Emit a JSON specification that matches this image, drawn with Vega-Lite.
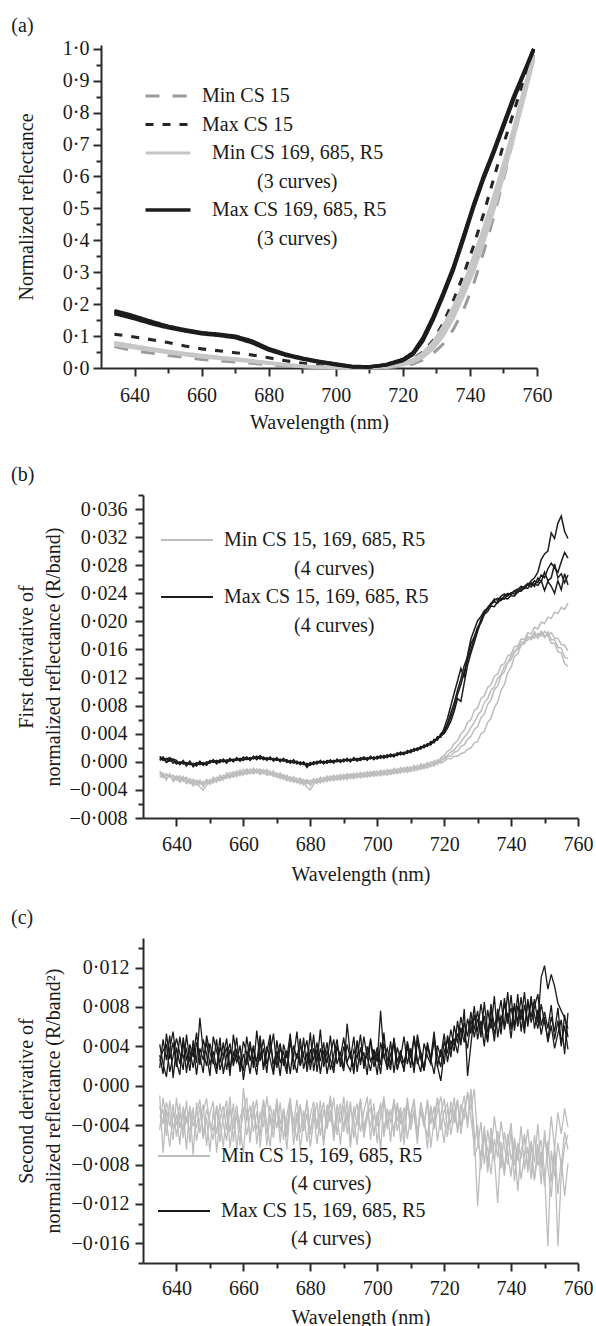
{
"$schema": "https://vega.github.io/schema/vega-lite/v6.json",
"padding": {"left": 10, "top": 15, "right": 5, "bottom": 0},
"background": "white",
"columns": 1,
"spacing": 23,
"config": {
  "view": {"stroke": null},
  "font": "Liberation Serif",
  "axis": {"labelFont": "Liberation Serif", "labelFontSize": 20, "labelColor": "#1a1a1a", "titleFont": "Liberation Serif", "titleFontSize": 20, "titleFontWeight": "normal", "titleColor": "#1a1a1a", "domainColor": "#2b2b2b", "domainWidth": 2, "tickColor": "#2b2b2b", "tickWidth": 2, "grid": false, "labelOverlap": false, "labelFlush": false, "labelBound": false},
  "legend": {"labelFont": "Liberation Serif", "labelFontSize": 20, "labelColor": "#1a1a1a", "labelLimit": 400},
  "title": {"font": "Liberation Serif", "fontSize": 20, "fontWeight": "normal", "anchor": "start", "color": "#1a1a1a"}
},
"datasets": {
  "keysA": [
    {"k": "m15", "s": "Min CS 15"}, {"k": "x15", "s": "Max CS 15"},
    {"k": "n1", "s": "Min CS 169, 685, R5"}, {"k": "n2", "s": "Min CS 169, 685, R5"}, {"k": "n3", "s": "Min CS 169, 685, R5"},
    {"k": "x1", "s": "Max CS 169, 685, R5"}, {"k": "x2", "s": "Max CS 169, 685, R5"}, {"k": "x3", "s": "Max CS 169, 685, R5"}
  ],
  "grp": [
    {"k": "a", "s": "Min CS 15, 169, 685, R5"}, {"k": "b", "s": "Min CS 15, 169, 685, R5"}, {"k": "c", "s": "Min CS 15, 169, 685, R5"}, {"k": "d", "s": "Min CS 15, 169, 685, R5"},
    {"k": "e", "s": "Max CS 15, 169, 685, R5"}, {"k": "f", "s": "Max CS 15, 169, 685, R5"}, {"k": "g", "s": "Max CS 15, 169, 685, R5"}, {"k": "h", "s": "Max CS 15, 169, 685, R5"}
  ],
  "ra": [
{"w":634,"m15":0.067,"x15":0.106,"n1":0.077,"n2":0.072,"n3":0.080,"x1":0.176,"x2":0.170,"x3":0.180},
{"w":638,"m15":0.058,"x15":0.100,"n1":0.070,"n2":0.066,"n3":0.073,"x1":0.166,"x2":0.160,"x3":0.169},
{"w":642,"m15":0.051,"x15":0.094,"n1":0.063,"n2":0.060,"n3":0.066,"x1":0.153,"x2":0.148,"x3":0.156},
{"w":646,"m15":0.045,"x15":0.087,"n1":0.057,"n2":0.054,"n3":0.059,"x1":0.140,"x2":0.136,"x3":0.143},
{"w":650,"m15":0.039,"x15":0.080,"n1":0.051,"n2":0.048,"n3":0.053,"x1":0.129,"x2":0.126,"x3":0.131},
{"w":655,"m15":0.033,"x15":0.069,"n1":0.044,"n2":0.041,"n3":0.046,"x1":0.118,"x2":0.116,"x3":0.120},
{"w":660,"m15":0.027,"x15":0.060,"n1":0.038,"n2":0.035,"n3":0.040,"x1":0.109,"x2":0.107,"x3":0.111},
{"w":665,"m15":0.023,"x15":0.054,"n1":0.033,"n2":0.030,"n3":0.034,"x1":0.105,"x2":0.102,"x3":0.106},
{"w":670,"m15":0.019,"x15":0.048,"n1":0.028,"n2":0.025,"n3":0.029,"x1":0.098,"x2":0.095,"x3":0.100},
{"w":675,"m15":0.015,"x15":0.041,"n1":0.022,"n2":0.020,"n3":0.023,"x1":0.082,"x2":0.079,"x3":0.085},
{"w":680,"m15":0.010,"x15":0.032,"n1":0.016,"n2":0.014,"n3":0.017,"x1":0.058,"x2":0.056,"x3":0.061},
{"w":685,"m15":0.006,"x15":0.023,"n1":0.010,"n2":0.009,"n3":0.011,"x1":0.042,"x2":0.040,"x3":0.044},
{"w":690,"m15":0.003,"x15":0.015,"n1":0.006,"n2":0.005,"n3":0.006,"x1":0.030,"x2":0.028,"x3":0.031},
{"w":695,"m15":0.001,"x15":0.008,"n1":0.003,"n2":0.002,"n3":0.003,"x1":0.020,"x2":0.018,"x3":0.021},
{"w":700,"m15":0.000,"x15":0.003,"n1":0.001,"n2":0.001,"n3":0.001,"x1":0.012,"x2":0.010,"x3":0.013},
{"w":705,"m15":0.000,"x15":0.000,"n1":0.000,"n2":0.000,"n3":0.000,"x1":0.004,"x2":0.003,"x3":0.005},
{"w":710,"m15":0.000,"x15":0.001,"n1":0.001,"n2":0.002,"n3":0.001,"x1":0.003,"x2":0.003,"x3":0.004},
{"w":715,"m15":0.001,"x15":0.006,"n1":0.004,"n2":0.006,"n3":0.003,"x1":0.010,"x2":0.011,"x3":0.009},
{"w":720,"m15":0.005,"x15":0.016,"n1":0.012,"n2":0.015,"n3":0.010,"x1":0.025,"x2":0.027,"x3":0.023},
{"w":723,"m15":0.012,"x15":0.028,"n1":0.022,"n2":0.026,"n3":0.018,"x1":0.045,"x2":0.048,"x3":0.042},
{"w":726,"m15":0.025,"x15":0.050,"n1":0.040,"n2":0.047,"n3":0.034,"x1":0.090,"x2":0.095,"x3":0.085},
{"w":729,"m15":0.045,"x15":0.085,"n1":0.070,"n2":0.080,"n3":0.060,"x1":0.155,"x2":0.160,"x3":0.150},
{"w":732,"m15":0.075,"x15":0.140,"n1":0.115,"n2":0.130,"n3":0.100,"x1":0.230,"x2":0.235,"x3":0.225},
{"w":735,"m15":0.120,"x15":0.210,"n1":0.170,"n2":0.190,"n3":0.155,"x1":0.310,"x2":0.315,"x3":0.305},
{"w":738,"m15":0.180,"x15":0.290,"n1":0.240,"n2":0.260,"n3":0.225,"x1":0.410,"x2":0.410,"x3":0.400},
{"w":741,"m15":0.260,"x15":0.380,"n1":0.320,"n2":0.345,"n3":0.300,"x1":0.510,"x2":0.505,"x3":0.500},
{"w":744,"m15":0.360,"x15":0.480,"n1":0.410,"n2":0.435,"n3":0.390,"x1":0.600,"x2":0.595,"x3":0.590},
{"w":747,"m15":0.470,"x15":0.590,"n1":0.510,"n2":0.535,"n3":0.490,"x1":0.680,"x2":0.675,"x3":0.670},
{"w":750,"m15":0.590,"x15":0.700,"n1":0.620,"n2":0.640,"n3":0.600,"x1":0.765,"x2":0.760,"x3":0.755},
{"w":753,"m15":0.720,"x15":0.800,"n1":0.730,"n2":0.750,"n3":0.720,"x1":0.850,"x2":0.845,"x3":0.840},
{"w":756,"m15":0.850,"x15":0.900,"n1":0.850,"n2":0.870,"n3":0.840,"x1":0.925,"x2":0.920,"x3":0.920},
{"w":759,"m15":0.970,"x15":0.980,"n1":0.970,"n2":0.980,"n3":0.965,"x1":1.000,"x2":0.995,"x3":1.000}
  ],
  "rb": [
{"w":635,"a":-0.0013,"b":-0.0019,"c":-0.0016,"d":-0.0022,"e":0.0006,"f":0.0003,"g":0.0008,"h":0.0002},
{"w":636,"a":-0.002,"b":-0.0016,"c":-0.0023,"d":-0.0019,"e":0.0002,"f":0.0007,"g":0.0003,"h":0.0005},
{"w":637,"a":-0.0017,"b":-0.0024,"c":-0.0019,"d":-0.0026,"e":0.0005,"f":0,"g":0.0004,"h":-0.0001},
{"w":638,"a":-0.0022,"b":-0.0018,"c":-0.0021,"d":-0.0017,"e":0.0001,"f":0.0004,"g":0.0006,"h":0.0002},
{"w":639,"a":-0.0019,"b":-0.0025,"c":-0.002,"d":-0.0028,"e":0.0003,"f":-0.0002,"g":0.0002,"h":0.0004},
{"w":640,"a":-0.0024,"b":-0.002,"c":-0.0026,"d":-0.0022,"e":-0.0003,"f":0.0001,"g":-0.0002,"h":0.0002},
{"w":641,"a":-0.002,"b":-0.0027,"c":-0.0022,"d":-0.0029,"e":0,"f":-0.0004,"g":-0.0001,"h":-0.0003},
{"w":642,"a":-0.0025,"b":-0.0021,"c":-0.0028,"d":-0.0024,"e":-0.0002,"f":0.0002,"g":-0.0003,"h":0.0001},
{"w":643,"a":-0.0022,"b":-0.0029,"c":-0.0024,"d":-0.0031,"e":-0.0001,"f":-0.0005,"g":-0.0002,"h":-0.0006},
{"w":644,"a":-0.0029,"b":-0.0024,"c":-0.0031,"d":-0.0027,"e":-0.0004,"f":0,"g":-0.0003,"h":0.0001},
{"w":645,"a":-0.0025,"b":-0.0031,"c":-0.0027,"d":-0.0034,"e":-0.0002,"f":-0.0006,"g":-0.0003,"h":-0.0007},
{"w":646,"a":-0.003,"b":-0.0026,"c":-0.0033,"d":-0.0029,"e":-0.0005,"f":-0.0001,"g":-0.0006,"h":-0.0002},
{"w":647,"a":-0.0026,"b":-0.0032,"c":-0.0028,"d":-0.0036,"e":0.0001,"f":-0.0003,"g":0,"h":-0.0004},
{"w":648,"a":-0.0033,"b":-0.0028,"c":-0.0035,"d":-0.004,"e":-0.0005,"f":-0.0001,"g":-0.0004,"h":-0.0002},
{"w":649,"a":-0.0025,"b":-0.0031,"c":-0.0027,"d":-0.0033,"e":0,"f":-0.0004,"g":-0.0001,"h":-0.0005},
{"w":650,"a":-0.003,"b":-0.0025,"c":-0.0032,"d":-0.0029,"e":-0.0002,"f":0.0002,"g":-0.0001,"h":0.0001},
{"w":651,"a":-0.0022,"b":-0.0028,"c":-0.0024,"d":-0.003,"e":0.0003,"f":-0.0001,"g":0.0002,"h":0},
{"w":652,"a":-0.0027,"b":-0.0022,"c":-0.0029,"d":-0.0025,"e":-0.0003,"f":0.0001,"g":-0.0002,"h":0.0002},
{"w":653,"a":-0.0019,"b":-0.0025,"c":-0.0021,"d":-0.0027,"e":0.0002,"f":-0.0001,"g":0.0003,"h":0},
{"w":654,"a":-0.0024,"b":-0.0019,"c":-0.0026,"d":-0.0022,"e":0,"f":0.0004,"g":0.0001,"h":0.0003},
{"w":655,"a":-0.0016,"b":-0.0022,"c":-0.0018,"d":-0.0024,"e":0.0003,"f":-0.0001,"g":0.0002,"h":-0.0002},
{"w":656,"a":-0.0021,"b":-0.0015,"c":-0.0023,"d":-0.0019,"e":0.0001,"f":0.0005,"g":0.0002,"h":0.0004},
{"w":657,"a":-0.0014,"b":-0.002,"c":-0.0016,"d":-0.0022,"e":0.0004,"f":0,"g":0.0003,"h":0.0001},
{"w":658,"a":-0.0019,"b":-0.0013,"c":-0.0021,"d":-0.0017,"e":0.0002,"f":0.0006,"g":0.0003,"h":0.0005},
{"w":659,"a":-0.0012,"b":-0.0018,"c":-0.0014,"d":-0.002,"e":0.0005,"f":0.0001,"g":0.0004,"h":0.0002},
{"w":660,"a":-0.0017,"b":-0.0011,"c":-0.0019,"d":-0.0015,"e":0.0002,"f":0.0006,"g":0.0003,"h":0.0007},
{"w":661,"a":-0.001,"b":-0.0016,"c":-0.0012,"d":-0.0018,"e":0.0007,"f":0.0003,"g":0.0006,"h":0.0004},
{"w":662,"a":-0.0016,"b":-0.001,"c":-0.0017,"d":-0.0014,"e":0.0002,"f":0.0006,"g":0.0003,"h":0.0005},
{"w":663,"a":-0.0009,"b":-0.0015,"c":-0.0011,"d":-0.0017,"e":0.0008,"f":0.0004,"g":0.0007,"h":0.0005},
{"w":664,"a":-0.0015,"b":-0.001,"c":-0.0016,"d":-0.0013,"e":0.0003,"f":0.0007,"g":0.0004,"h":0.0008},
{"w":665,"a":-0.001,"b":-0.0016,"c":-0.0012,"d":-0.0018,"e":0.0008,"f":0.0004,"g":0.0009,"h":0.0005},
{"w":666,"a":-0.0016,"b":-0.0011,"c":-0.0017,"d":-0.0014,"e":0.0003,"f":0.0007,"g":0.0004,"h":0.0006},
{"w":667,"a":-0.0011,"b":-0.0017,"c":-0.0013,"d":-0.0019,"e":0.0006,"f":0.0002,"g":0.0005,"h":0.0003},
{"w":668,"a":-0.0018,"b":-0.0013,"c":-0.0019,"d":-0.0016,"e":0.0003,"f":0.0007,"g":0.0004,"h":0.0006},
{"w":669,"a":-0.0013,"b":-0.0019,"c":-0.0015,"d":-0.0021,"e":0.0005,"f":0.0001,"g":0.0004,"h":0.0002},
{"w":670,"a":-0.0021,"b":-0.0016,"c":-0.0022,"d":-0.0019,"e":0.0002,"f":0.0006,"g":0.0003,"h":0.0005},
{"w":671,"a":-0.0016,"b":-0.0022,"c":-0.0018,"d":-0.0024,"e":0.0004,"f":0,"g":0.0003,"h":0.0001},
{"w":672,"a":-0.0023,"b":-0.0018,"c":-0.0025,"d":-0.0021,"e":0.0001,"f":0.0005,"g":0.0002,"h":0.0004},
{"w":673,"a":-0.0019,"b":-0.0025,"c":-0.0021,"d":-0.0027,"e":0.0003,"f":-0.0001,"g":0.0002,"h":0},
{"w":674,"a":-0.0026,"b":-0.0021,"c":-0.0028,"d":-0.0024,"e":-0.0002,"f":0.0002,"g":-0.0001,"h":0.0001},
{"w":675,"a":-0.0021,"b":-0.0027,"c":-0.0023,"d":-0.0029,"e":0.0003,"f":-0.0001,"g":0.0002,"h":-0.0002},
{"w":676,"a":-0.0028,"b":-0.0023,"c":-0.003,"d":-0.0026,"e":-0.0003,"f":0.0001,"g":-0.0002,"h":0},
{"w":677,"a":-0.0023,"b":-0.0029,"c":-0.0025,"d":-0.0032,"e":0,"f":-0.0004,"g":-0.0001,"h":-0.0003},
{"w":678,"a":-0.003,"b":-0.0025,"c":-0.0033,"d":-0.0028,"e":-0.0004,"f":0,"g":-0.0003,"h":-0.0001},
{"w":679,"a":-0.0025,"b":-0.0031,"c":-0.0027,"d":-0.0036,"e":-0.0002,"f":-0.0006,"g":-0.0003,"h":-0.0008},
{"w":680,"a":-0.0031,"b":-0.0026,"c":-0.0034,"d":-0.004,"e":-0.0005,"f":-0.0001,"g":-0.0004,"h":-0.0002},
{"w":681,"a":-0.0024,"b":-0.003,"c":-0.0026,"d":-0.0032,"e":0,"f":-0.0004,"g":-0.0001,"h":-0.0003},
{"w":682,"a":-0.0029,"b":-0.0024,"c":-0.0031,"d":-0.0027,"e":-0.0003,"f":0.0001,"g":-0.0002,"h":0},
{"w":683,"a":-0.0022,"b":-0.0028,"c":-0.0024,"d":-0.003,"e":0.0002,"f":-0.0002,"g":0.0001,"h":-0.0001},
{"w":684,"a":-0.0027,"b":-0.0022,"c":-0.0029,"d":-0.0025,"e":-0.0003,"f":0.0001,"g":-0.0002,"h":0},
{"w":685,"a":-0.002,"b":-0.0026,"c":-0.0022,"d":-0.0028,"e":0.0002,"f":-0.0002,"g":0.0001,"h":-0.0001},
{"w":686,"a":-0.0025,"b":-0.002,"c":-0.0027,"d":-0.0023,"e":-0.0001,"f":0.0003,"g":0,"h":0.0002},
{"w":687,"a":-0.0019,"b":-0.0025,"c":-0.0021,"d":-0.0027,"e":0.0002,"f":-0.0002,"g":0.0001,"h":-0.0001},
{"w":688,"a":-0.0024,"b":-0.0019,"c":-0.0026,"d":-0.0022,"e":0,"f":0.0004,"g":0.0001,"h":0.0003},
{"w":689,"a":-0.0018,"b":-0.0024,"c":-0.002,"d":-0.0026,"e":0.0003,"f":-0.0001,"g":0.0002,"h":0},
{"w":690,"a":-0.0023,"b":-0.0018,"c":-0.0025,"d":-0.0021,"e":0,"f":0.0004,"g":0.0001,"h":0.0003},
{"w":691,"a":-0.0017,"b":-0.0023,"c":-0.0019,"d":-0.0025,"e":0.0005,"f":0.0001,"g":0.0004,"h":0.0002},
{"w":692,"a":-0.0022,"b":-0.0017,"c":-0.0024,"d":-0.002,"e":0,"f":0.0004,"g":0.0001,"h":0.0003},
{"w":693,"a":-0.0016,"b":-0.0022,"c":-0.0018,"d":-0.0024,"e":0.0006,"f":0.0002,"g":0.0005,"h":0.0003},
{"w":694,"a":-0.0021,"b":-0.0016,"c":-0.0023,"d":-0.0019,"e":0.0001,"f":0.0005,"g":0.0002,"h":0.0004},
{"w":695,"a":-0.0015,"b":-0.0021,"c":-0.0017,"d":-0.0023,"e":0.0006,"f":0.0002,"g":0.0005,"h":0.0003},
{"w":696,"a":-0.002,"b":-0.0015,"c":-0.0022,"d":-0.0018,"e":0.0003,"f":0.0007,"g":0.0004,"h":0.0006},
{"w":697,"a":-0.0014,"b":-0.002,"c":-0.0016,"d":-0.0022,"e":0.0006,"f":0.0002,"g":0.0005,"h":0.0003},
{"w":698,"a":-0.0019,"b":-0.0014,"c":-0.0021,"d":-0.0017,"e":0.0004,"f":0.0008,"g":0.0005,"h":0.0007},
{"w":699,"a":-0.0013,"b":-0.0019,"c":-0.0015,"d":-0.0021,"e":0.0007,"f":0.0003,"g":0.0006,"h":0.0004},
{"w":700,"a":-0.0018,"b":-0.0013,"c":-0.002,"d":-0.0016,"e":0.0004,"f":0.0008,"g":0.0005,"h":0.0007},
{"w":701,"a":-0.0012,"b":-0.0018,"c":-0.0014,"d":-0.002,"e":0.0009,"f":0.0005,"g":0.0008,"h":0.0006},
{"w":702,"a":-0.0017,"b":-0.0012,"c":-0.0019,"d":-0.0015,"e":0.0005,"f":0.0009,"g":0.0006,"h":0.0008},
{"w":703,"a":-0.0011,"b":-0.0017,"c":-0.0013,"d":-0.0019,"e":0.001,"f":0.0006,"g":0.0009,"h":0.0007},
{"w":704,"a":-0.0016,"b":-0.0011,"c":-0.0018,"d":-0.0014,"e":0.0007,"f":0.0011,"g":0.0008,"h":0.001},
{"w":705,"a":-0.0009,"b":-0.0015,"c":-0.0011,"d":-0.0017,"e":0.0011,"f":0.0007,"g":0.001,"h":0.0008},
{"w":706,"a":-0.0015,"b":-0.001,"c":-0.0017,"d":-0.0013,"e":0.0009,"f":0.0013,"g":0.001,"h":0.0012},
{"w":707,"a":-0.0008,"b":-0.0014,"c":-0.001,"d":-0.0016,"e":0.0014,"f":0.001,"g":0.0013,"h":0.0011},
{"w":708,"a":-0.0013,"b":-0.0008,"c":-0.0015,"d":-0.0011,"e":0.001,"f":0.0014,"g":0.0011,"h":0.0013},
{"w":709,"a":-0.0007,"b":-0.0013,"c":-0.0009,"d":-0.0015,"e":0.0016,"f":0.0012,"g":0.0015,"h":0.0013},
{"w":710,"a":-0.0012,"b":-0.0007,"c":-0.0014,"d":-0.001,"e":0.0013,"f":0.0017,"g":0.0014,"h":0.0016},
{"w":711,"a":-0.0005,"b":-0.0011,"c":-0.0007,"d":-0.0013,"e":0.0019,"f":0.0015,"g":0.0018,"h":0.0016},
{"w":712,"a":-0.001,"b":-0.0005,"c":-0.0012,"d":-0.0008,"e":0.0016,"f":0.002,"g":0.0017,"h":0.0019},
{"w":713,"a":-0.0003,"b":-0.0009,"c":-0.0005,"d":-0.0011,"e":0.0022,"f":0.0018,"g":0.0021,"h":0.0019},
{"w":714,"a":-0.0008,"b":-0.0003,"c":-0.001,"d":-0.0006,"e":0.002,"f":0.0024,"g":0.0021,"h":0.0023},
{"w":715,"a":-0.0001,"b":-0.0007,"c":-0.0003,"d":-0.0009,"e":0.0026,"f":0.0022,"g":0.0025,"h":0.0023},
{"w":716,"a":-0.0005,"b":0,"c":-0.0007,"d":-0.0004,"e":0.0024,"f":0.0029,"g":0.0025,"h":0.0027},
{"w":717,"a":0.0002,"b":-0.0004,"c":0,"d":-0.0006,"e":0.0032,"f":0.0027,"g":0.003,"h":0.0028},
{"w":718,"a":-0.0002,"b":0.0003,"c":-0.0004,"d":0,"e":0.0031,"f":0.0036,"g":0.0032,"h":0.0034},
{"w":719,"a":0.0006,"b":0,"c":0.0004,"d":-0.0002,"e":0.004,"f":0.0035,"g":0.0038,"h":0.0036},
{"w":720,"a":0.0009,"b":0.0006,"c":0.0004,"d":0.0001,"e":0.0045,"f":0.0048,"g":0.004,"h":0.0042},
{"w":721,"a":0.0015,"b":0.0009,"c":0.0008,"d":0.0005,"e":0.0055,"f":0.0062,"g":0.0048,"h":0.0052},
{"w":722,"a":0.0018,"b":0.0014,"c":0.0008,"d":0.0004,"e":0.007,"f":0.008,"g":0.0058,"h":0.0064},
{"w":723,"a":0.0026,"b":0.0017,"c":0.0014,"d":0.0008,"e":0.0084,"f":0.0098,"g":0.0072,"h":0.0078},
{"w":724,"a":0.003,"b":0.0023,"c":0.0015,"d":0.0008,"e":0.0102,"f":0.0115,"g":0.009,"h":0.0096},
{"w":725,"a":0.004,"b":0.0028,"c":0.0022,"d":0.0012,"e":0.0118,"f":0.0133,"g":0.0086,"h":0.011},
{"w":726,"a":0.0045,"b":0.0035,"c":0.0024,"d":0.0013,"e":0.0137,"f":0.012,"g":0.0112,"h":0.0128},
{"w":727,"a":0.0056,"b":0.0041,"c":0.0032,"d":0.0018,"e":0.015,"f":0.0152,"g":0.0138,"h":0.0145},
{"w":728,"a":0.006,"b":0.0049,"c":0.0036,"d":0.002,"e":0.0168,"f":0.0175,"g":0.0155,"h":0.016},
{"w":729,"a":0.0073,"b":0.0056,"c":0.0046,"d":0.0027,"e":0.0178,"f":0.0188,"g":0.017,"h":0.0176},
{"w":730,"a":0.0077,"b":0.0066,"c":0.005,"d":0.0029,"e":0.0192,"f":0.0201,"g":0.0186,"h":0.0189},
{"w":731,"a":0.009,"b":0.0072,"c":0.0063,"d":0.004,"e":0.0198,"f":0.0207,"g":0.02,"h":0.0203},
{"w":732,"a":0.0094,"b":0.0084,"c":0.0068,"d":0.0043,"e":0.021,"f":0.0215,"g":0.0212,"h":0.0211},
{"w":733,"a":0.0106,"b":0.009,"c":0.0082,"d":0.0056,"e":0.0214,"f":0.0219,"g":0.0218,"h":0.022},
{"w":734,"a":0.011,"b":0.0102,"c":0.0088,"d":0.0062,"e":0.0222,"f":0.0224,"g":0.0226,"h":0.0225},
{"w":735,"a":0.0122,"b":0.0107,"c":0.0103,"d":0.0077,"e":0.0221,"f":0.0228,"g":0.023,"h":0.0232},
{"w":736,"a":0.0125,"b":0.0119,"c":0.0108,"d":0.0085,"e":0.0228,"f":0.0226,"g":0.0233,"h":0.023},
{"w":737,"a":0.0137,"b":0.0124,"c":0.0123,"d":0.0102,"e":0.023,"f":0.0233,"g":0.0231,"h":0.0236},
{"w":738,"a":0.014,"b":0.0136,"c":0.0128,"d":0.011,"e":0.0233,"f":0.0232,"g":0.0236,"h":0.0239},
{"w":739,"a":0.0151,"b":0.0141,"c":0.0142,"d":0.0127,"e":0.0232,"f":0.0238,"g":0.024,"h":0.0236},
{"w":740,"a":0.0153,"b":0.0151,"c":0.0145,"d":0.0134,"e":0.0237,"f":0.024,"g":0.0238,"h":0.0241},
{"w":741,"a":0.0164,"b":0.0155,"c":0.0158,"d":0.015,"e":0.0236,"f":0.0243,"g":0.0244,"h":0.0239},
{"w":742,"a":0.0165,"b":0.0163,"c":0.016,"d":0.0154,"e":0.0242,"f":0.0241,"g":0.0246,"h":0.0245},
{"w":743,"a":0.0175,"b":0.0165,"c":0.0171,"d":0.0167,"e":0.0244,"f":0.0247,"g":0.0243,"h":0.025},
{"w":744,"a":0.0174,"b":0.0172,"c":0.017,"d":0.0168,"e":0.0249,"f":0.025,"g":0.0248,"h":0.0247},
{"w":745,"a":0.0184,"b":0.0173,"c":0.0179,"d":0.0178,"e":0.0252,"f":0.0254,"g":0.0247,"h":0.0253},
{"w":746,"a":0.0182,"b":0.0179,"c":0.0174,"d":0.0175,"e":0.0258,"f":0.0252,"g":0.0255,"h":0.0249},
{"w":747,"a":0.0192,"b":0.0176,"c":0.0182,"d":0.0185,"e":0.0262,"f":0.0258,"g":0.025,"h":0.0254},
{"w":748,"a":0.0189,"b":0.0183,"c":0.0176,"d":0.0177,"e":0.027,"f":0.0255,"g":0.0262,"h":0.0251},
{"w":749,"a":0.0199,"b":0.0179,"c":0.0184,"d":0.0186,"e":0.0288,"f":0.0266,"g":0.0256,"h":0.0258},
{"w":750,"a":0.0197,"b":0.0186,"c":0.0177,"d":0.0179,"e":0.0296,"f":0.0262,"g":0.027,"h":0.0244},
{"w":751,"a":0.0206,"b":0.018,"c":0.0185,"d":0.018,"e":0.03,"f":0.0275,"g":0.0258,"h":0.0257},
{"w":752,"a":0.0204,"b":0.0184,"c":0.0174,"d":0.0169,"e":0.0326,"f":0.0283,"g":0.0262,"h":0.025},
{"w":753,"a":0.0213,"b":0.0176,"c":0.0174,"d":0.0169,"e":0.0318,"f":0.0276,"g":0.0282,"h":0.024},
{"w":754,"a":0.0211,"b":0.0176,"c":0.0163,"d":0.0157,"e":0.034,"f":0.027,"g":0.0262,"h":0.0258},
{"w":755,"a":0.022,"b":0.0167,"c":0.0162,"d":0.0155,"e":0.035,"f":0.0285,"g":0.0268,"h":0.0245},
{"w":756,"a":0.0217,"b":0.0166,"c":0.0149,"d":0.014,"e":0.0328,"f":0.0298,"g":0.0255,"h":0.0268},
{"w":757,"a":0.0226,"b":0.0158,"c":0.0147,"d":0.0136,"e":0.0318,"f":0.029,"g":0.0266,"h":0.0252}
  ],
  "rc": [
{"w":635,"a":-0.001,"b":-0.0032,"c":-0.0045,"d":-0.0021,"e":0.0031,"f":0.0018,"g":0.0042,"h":0.0025},
{"w":636,"a":-0.0068,"b":-0.0025,"c":-0.0012,"d":-0.0039,"e":0.0012,"f":0.0047,"g":0.0022,"h":0.0036},
{"w":637,"a":-0.0024,"b":-0.0051,"c":-0.0036,"d":-0.0017,"e":0.0053,"f":0.0026,"g":0.0009,"h":0.0041},
{"w":638,"a":-0.0041,"b":-0.0015,"c":-0.0062,"d":-0.003,"e":0.0027,"f":0.0051,"g":0.0038,"h":0.0014},
{"w":639,"a":-0.0019,"b":-0.0044,"c":-0.0027,"d":-0.0055,"e":0.0044,"f":0.0008,"g":0.0055,"h":0.003},
{"w":640,"a":-0.0052,"b":-0.0029,"c":-0.004,"d":-0.0012,"e":0.0019,"f":0.0039,"g":0.0024,"h":0.0048},
{"w":641,"a":-0.0027,"b":-0.006,"c":-0.0018,"d":-0.0043,"e":0.005,"f":0.0022,"g":0.0011,"h":0.0033},
{"w":642,"a":-0.0046,"b":-0.0021,"c":-0.0053,"d":-0.0026,"e":0.0028,"f":0.0045,"g":0.0049,"h":0.0016},
{"w":643,"a":-0.0015,"b":-0.0038,"c":-0.0031,"d":-0.0065,"e":0.0037,"f":0.0013,"g":0.0027,"h":0.0052},
{"w":644,"a":-0.0058,"b":-0.0023,"c":-0.0047,"d":-0.002,"e":0.0015,"f":0.0042,"g":0.0036,"h":0.0024},
{"w":645,"a":-0.003,"b":-0.007,"c":-0.0022,"d":-0.0041,"e":0.0046,"f":0.0029,"g":0.0018,"h":0.004},
{"w":646,"a":-0.0043,"b":-0.0017,"c":-0.0056,"d":-0.0028,"e":0.0023,"f":0.0054,"g":0.0044,"h":0.0011},
{"w":647,"a":-0.0021,"b":-0.0048,"c":-0.0034,"d":-0.0014,"e":0.0069,"f":0.0021,"g":0.003,"h":0.0038},
{"w":648,"a":-0.0054,"b":-0.0026,"c":-0.0019,"d":-0.005,"e":0.0035,"f":0.0047,"g":0.0013,"h":0.0026},
{"w":649,"a":-0.0032,"b":-0.0013,"c":-0.0061,"d":-0.0024,"e":0.002,"f":0.0032,"g":0.0051,"h":0.0045},
{"w":650,"a":-0.0067,"b":-0.004,"c":-0.0028,"d":-0.0037,"e":0.0043,"f":0.001,"g":0.0034,"h":0.0021},
{"w":651,"a":-0.0025,"b":-0.0055,"c":-0.0016,"d":-0.0046,"e":0.0026,"f":0.005,"g":0.0022,"h":0.0035},
{"w":652,"a":-0.0049,"b":-0.002,"c":-0.0068,"d":-0.0022,"e":0.0012,"f":0.0035,"g":0.0047,"h":0.0017},
{"w":653,"a":-0.0018,"b":-0.0036,"c":-0.0033,"d":-0.0057,"e":0.0039,"f":0.0023,"g":0.0016,"h":0.0049},
{"w":654,"a":-0.0039,"b":-0.0062,"c":-0.0021,"d":-0.0031,"e":0.003,"f":0.0044,"g":0.0028,"h":0.0012},
{"w":655,"a":-0.0056,"b":-0.0024,"c":-0.0045,"d":-0.0015,"e":0.0048,"f":0.0016,"g":0.0039,"h":0.0031},
{"w":656,"a":-0.0023,"b":-0.0047,"c":-0.0011,"d":-0.0063,"e":0.0017,"f":0.0037,"g":0.001,"h":0.0043},
{"w":657,"a":-0.0044,"b":-0.0018,"c":-0.0057,"d":-0.0035,"e":0.0034,"f":0.0025,"g":0.0052,"h":0.002},
{"w":658,"a":-0.0029,"b":-0.0064,"c":-0.0026,"d":-0.002,"e":0.0024,"f":0.0049,"g":0.0029,"h":0.0036},
{"w":659,"a":-0.0061,"b":-0.0033,"c":-0.0041,"d":-0.0048,"e":0.0041,"f":0.0014,"g":0.0019,"h":0.0027},
{"w":660,"a":-0.0002,"b":-0.0022,"c":-0.0069,"d":-0.0027,"e":0.0006,"f":0.0032,"g":0.0045,"h":0.0015},
{"w":661,"a":-0.0035,"b":-0.005,"c":-0.0024,"d":-0.0012,"e":0.0029,"f":0.0021,"g":0.0033,"h":0.005},
{"w":662,"a":-0.002,"b":-0.0031,"c":-0.0052,"d":-0.0058,"e":0.0045,"f":0.004,"g":0.0012,"h":0.0025},
{"w":663,"a":-0.0047,"b":-0.0016,"c":-0.003,"d":-0.0022,"e":0.0018,"f":0.0028,"g":0.0038,"h":0.0041},
{"w":664,"a":-0.0026,"b":-0.0059,"c":-0.0014,"d":-0.0044,"e":0.0056,"f":0.0011,"g":0.0024,"h":0.0019},
{"w":665,"a":-0.0051,"b":-0.0027,"c":-0.0063,"d":-0.0033,"e":0.0025,"f":0.0046,"g":0.0051,"h":0.003},
{"w":666,"a":-0.0014,"b":-0.0042,"c":-0.0025,"d":-0.0016,"e":0.0038,"f":0.0019,"g":0.0016,"h":0.0047},
{"w":667,"a":-0.0038,"b":-0.0011,"c":-0.0049,"d":-0.0061,"e":0.0013,"f":0.0034,"g":0.004,"h":0.0022},
{"w":668,"a":-0.0062,"b":-0.0035,"c":-0.002,"d":-0.0029,"e":0.0047,"f":0.0052,"g":0.0027,"h":0.0034},
{"w":669,"a":-0.0024,"b":-0.0053,"c":-0.0038,"d":-0.0045,"e":0.0022,"f":0.0015,"g":0.0011,"h":0.0053},
{"w":670,"a":-0.0043,"b":-0.0019,"c":-0.0016,"d":-0.0013,"e":0.0035,"f":0.003,"g":0.0046,"h":0.0018},
{"w":671,"a":-0.0017,"b":-0.0046,"c":-0.0058,"d":-0.0039,"e":0.001,"f":0.0043,"g":0.0023,"h":0.0039},
{"w":672,"a":-0.0055,"b":-0.0028,"c":-0.0023,"d":-0.0024,"e":0.0042,"f":0.002,"g":0.0035,"h":0.0026},
{"w":673,"a":-0.003,"b":-0.0065,"c":-0.0044,"d":-0.0052,"e":0.0028,"f":0.0036,"g":0.0017,"h":0.0012},
{"w":674,"a":-0.0012,"b":-0.0021,"c":-0.0015,"d":-0.0018,"e":0.0053,"f":0.0012,"g":0.0048,"h":0.0044},
{"w":675,"a":-0.0048,"b":-0.0039,"c":-0.006,"d":-0.0036,"e":0.0016,"f":0.0041,"g":0.0026,"h":0.0029},
{"w":676,"a":-0.0027,"b":-0.0014,"c":-0.0032,"d":-0.0056,"e":0.0033,"f":0.0027,"g":0.0013,"h":0.0055},
{"w":677,"a":-0.0064,"b":-0.0048,"c":-0.0019,"d":-0.0021,"e":0.0021,"f":0.0048,"g":0.0041,"h":0.002},
{"w":678,"a":-0.0036,"b":-0.0025,"c":-0.0046,"d":-0.004,"e":0.0049,"f":0.0017,"g":0.003,"h":0.0033},
{"w":679,"a":-0.0019,"b":-0.0057,"c":-0.0028,"d":-0.0014,"e":0.0014,"f":0.0033,"g":0.0021,"h":0.0046},
{"w":680,"a":-0.005,"b":-0.003,"c":-0.0062,"d":-0.0047,"e":0.0037,"f":0.0023,"g":0.0054,"h":0.0016},
{"w":681,"a":-0.0023,"b":-0.0016,"c":-0.0035,"d":-0.0026,"e":0.0026,"f":0.0052,"g":0.0015,"h":0.0038},
{"w":682,"a":-0.0041,"b":-0.0044,"c":-0.0017,"d":-0.0059,"e":0.0044,"f":0.0014,"g":0.0037,"h":0.0024},
{"w":683,"a":-0.0015,"b":-0.0026,"c":-0.0051,"d":-0.0032,"e":0.0012,"f":0.0038,"g":0.0025,"h":0.0057},
{"w":684,"a":-0.0057,"b":-0.0061,"c":-0.0024,"d":-0.0017,"e":0.0036,"f":0.0025,"g":0.0044,"h":0.0019},
{"w":685,"a":-0.0031,"b":-0.0019,"c":-0.0042,"d":-0.0044,"e":0.0023,"f":0.0044,"g":0.0012,"h":0.0035},
{"w":686,"a":-0.001,"b":-0.0037,"c":-0.0013,"d":-0.0025,"e":0.0051,"f":0.0016,"g":0.0032,"h":0.0027},
{"w":687,"a":-0.0045,"b":-0.0012,"c":-0.0056,"d":-0.0053,"e":0.0018,"f":0.0031,"g":0.0047,"h":0.0013},
{"w":688,"a":-0.0028,"b":-0.005,"c":-0.003,"d":-0.0019,"e":0.004,"f":0.0047,"g":0.0022,"h":0.0041},
{"w":689,"a":-0.006,"b":-0.0024,"c":-0.0018,"d":-0.0038,"e":0.0027,"f":0.0019,"g":0.0034,"h":0.003},
{"w":690,"a":-0.0021,"b":-0.0043,"c":-0.0047,"d":-0.0011,"e":0.0015,"f":0.004,"g":0.0018,"h":0.0049},
{"w":691,"a":-0.0037,"b":-0.0015,"c":-0.0026,"d":-0.0049,"e":0.0063,"f":0.0024,"g":0.0042,"h":0.0022},
{"w":692,"a":-0.0016,"b":-0.0058,"c":-0.0063,"d":-0.0023,"e":0.003,"f":0.0035,"g":0.0027,"h":0.0015},
{"w":693,"a":-0.0053,"b":-0.0032,"c":-0.0021,"d":-0.0035,"e":0.0019,"f":0.0012,"g":0.005,"h":0.0036},
{"w":694,"a":-0.0033,"b":-0.0018,"c":-0.004,"d":-0.006,"e":0.0045,"f":0.0046,"g":0.0014,"h":0.0028},
{"w":695,"a":-0.0013,"b":-0.0047,"c":-0.0015,"d":-0.0016,"e":0.0024,"f":0.0021,"g":0.0039,"h":0.0052},
{"w":696,"a":-0.0049,"b":-0.0026,"c":-0.0053,"d":-0.0042,"e":0.0034,"f":0.005,"g":0.0023,"h":0.0017},
{"w":697,"a":-0.0026,"b":-0.0011,"c":-0.0033,"d":-0.0028,"e":0.0011,"f":0.0029,"g":0.0031,"h":0.004},
{"w":698,"a":-0.0042,"b":-0.0055,"c":-0.0022,"d":-0.0013,"e":0.0048,"f":0.0015,"g":0.0046,"h":0.0025},
{"w":699,"a":-0.0018,"b":-0.0029,"c":-0.005,"d":-0.0051,"e":0.0026,"f":0.0037,"g":0.0019,"h":0.0033},
{"w":700,"a":-0.0058,"b":-0.0041,"c":-0.0027,"d":-0.0031,"e":0.0039,"f":0.0024,"g":0.0035,"h":0.0011},
{"w":701,"a":-0.003,"b":-0.0017,"c":-0.0066,"d":-0.002,"e":0.0021,"f":0.0076,"g":0.0012,"h":0.0044},
{"w":702,"a":-0.0011,"b":-0.0052,"c":-0.0014,"d":-0.0046,"e":0.0054,"f":0.003,"g":0.0043,"h":0.0029},
{"w":703,"a":-0.0044,"b":-0.0023,"c":-0.0039,"d":-0.0024,"e":0.0016,"f":0.0018,"g":0.0028,"h":0.0038},
{"w":704,"a":-0.0024,"b":-0.0038,"c":-0.0024,"d":-0.0057,"e":0.0032,"f":0.0045,"g":0.0016,"h":0.0021},
{"w":705,"a":-0.0052,"b":-0.0013,"c":-0.0048,"d":-0.0015,"e":0.0043,"f":0.0013,"g":0.0049,"h":0.0047},
{"w":706,"a":-0.0017,"b":-0.0046,"c":-0.0018,"d":-0.0036,"e":0.0017,"f":0.0039,"g":0.0024,"h":0.0016},
{"w":707,"a":-0.0039,"b":-0.0027,"c":-0.0057,"d":-0.0022,"e":0.0029,"f":0.0026,"g":0.0036,"h":0.0034},
{"w":708,"a":-0.0022,"b":-0.006,"c":-0.0031,"d":-0.0049,"e":0.005,"f":0.0017,"g":0.0014,"h":0.0023},
{"w":709,"a":-0.0054,"b":-0.002,"c":-0.0016,"d":-0.0012,"e":0.0022,"f":0.0043,"g":0.0045,"h":0.004},
{"w":710,"a":-0.0029,"b":-0.0035,"c":-0.0045,"d":-0.0039,"e":0.0038,"f":0.0028,"g":0.0029,"h":0.0018},
{"w":711,"a":-0.0013,"b":-0.0016,"c":-0.0025,"d":-0.0027,"e":0.0013,"f":0.0049,"g":0.002,"h":0.0051},
{"w":712,"a":-0.0047,"b":-0.0051,"c":-0.0059,"d":-0.0053,"e":0.0046,"f":0.0022,"g":0.0052,"h":0.0026},
{"w":713,"a":-0.0025,"b":-0.0024,"c":-0.0017,"d":-0.0017,"e":0.0027,"f":0.0034,"g":0.0033,"h":0.0014},
{"w":714,"a":-0.004,"b":-0.0042,"c":-0.0037,"d":-0.0033,"e":0.0015,"f":0.0016,"g":0.0017,"h":0.0043},
{"w":715,"a":-0.0016,"b":-0.0014,"c":-0.0052,"d":-0.0064,"e":0.0041,"f":0.0044,"g":0.004,"h":0.003},
{"w":716,"a":-0.0063,"b":-0.0039,"c":-0.0021,"d":-0.002,"e":0.0028,"f":0.0027,"g":0.0025,"h":0.0022},
{"w":717,"a":-0.0034,"b":-0.0021,"c":-0.0042,"d":-0.0044,"e":0.0055,"f":0.0012,"g":0.0047,"h":0.0048},
{"w":718,"a":-0.0012,"b":-0.0056,"c":-0.0014,"d":-0.0026,"e":0.002,"f":0.0041,"g":0.0019,"h":0.0031},
{"w":719,"a":-0.0045,"b":-0.003,"c":-0.0034,"d":-0.0011,"e":0.0005,"f":0.0029,"g":0.0037,"h":0.0019},
{"w":720,"a":-0.0026,"b":-0.0013,"c":-0.0058,"d":-0.0037,"e":0.0034,"f":0.0053,"g":0.0022,"h":0.0045},
{"w":721,"a":-0.0018,"b":-0.0045,"c":-0.0023,"d":-0.0052,"e":0.0047,"f":0.0024,"g":0.0051,"h":0.0033},
{"w":722,"a":-0.005,"b":-0.0022,"c":-0.0039,"d":-0.0016,"e":0.0029,"f":0.0046,"g":0.0036,"h":0.0057},
{"w":723,"a":-0.0028,"b":-0.0038,"c":-0.0012,"d":-0.003,"e":0.0061,"f":0.0035,"g":0.0048,"h":0.004},
{"w":724,"a":-0.0014,"b":-0.0016,"c":-0.0048,"d":-0.0043,"e":0.0043,"f":0.0066,"g":0.0033,"h":0.0052},
{"w":725,"a":-0.0041,"b":-0.0049,"c":-0.0027,"d":-0.0019,"e":0.007,"f":0.0041,"g":0.0059,"h":0.0046},
{"w":726,"a":-0.0022,"b":-0.0025,"c":-0.001,"d":-0.0034,"e":0.0052,"f":0.0078,"g":0.0044,"h":0.0064},
{"w":727,"a":-0.0035,"b":-0.0008,"c":-0.0043,"d":-0.0006,"e":0.0038,"f":0.001,"g":0.0068,"h":0.005},
{"w":728,"a":-0.0005,"b":-0.0033,"c":-0.0003,"d":-0.0024,"e":0.0066,"f":0.0042,"g":0.0053,"h":0.0075},
{"w":729,"a":-0.0048,"b":-0.0059,"c":-0.0071,"d":-0.0003,"e":0.0058,"f":0.0072,"g":0.0081,"h":0.0049},
{"w":730,"a":-0.0122,"b":-0.004,"c":-0.0062,"d":-0.0055,"e":0.0076,"f":0.0055,"g":0.0047,"h":0.0068},
{"w":731,"a":-0.0068,"b":-0.0085,"c":-0.0037,"d":-0.0072,"e":0.0049,"f":0.0083,"g":0.0066,"h":0.0057},
{"w":732,"a":-0.0051,"b":-0.0047,"c":-0.008,"d":-0.0041,"e":0.0085,"f":0.0061,"g":0.004,"h":0.0071},
{"w":733,"a":-0.0079,"b":-0.0065,"c":-0.0045,"d":-0.0088,"e":0.0054,"f":0.0044,"g":0.0077,"h":0.0046},
{"w":734,"a":-0.0043,"b":-0.009,"c":-0.0069,"d":-0.0052,"e":0.0069,"f":0.0079,"g":0.0058,"h":0.0083},
{"w":735,"a":-0.0072,"b":-0.0054,"c":-0.0031,"d":-0.0077,"e":0.0045,"f":0.0052,"g":0.0091,"h":0.006},
{"w":736,"a":-0.0119,"b":-0.0073,"c":-0.0058,"d":-0.0046,"e":0.0078,"f":0.0068,"g":0.0049,"h":0.0074},
{"w":737,"a":-0.0057,"b":-0.0036,"c":-0.0084,"d":-0.0069,"e":0.0059,"f":0.0087,"g":0.0071,"h":0.0052},
{"w":738,"a":-0.0086,"b":-0.0062,"c":-0.0047,"d":-0.0091,"e":0.0084,"f":0.0057,"g":0.0062,"h":0.0089},
{"w":739,"a":-0.0049,"b":-0.008,"c":-0.007,"d":-0.0058,"e":0.0063,"f":0.0074,"g":0.0095,"h":0.0066},
{"w":740,"a":-0.0075,"b":-0.0045,"c":-0.0092,"d":-0.0038,"e":0.0092,"f":0.0048,"g":0.0057,"h":0.0079},
{"w":741,"a":-0.006,"b":-0.0097,"c":-0.0053,"d":-0.0081,"e":0.0056,"f":0.0081,"g":0.0084,"h":0.0061},
{"w":742,"a":-0.0107,"b":-0.0058,"c":-0.0076,"d":-0.0063,"e":0.0081,"f":0.0065,"g":0.006,"h":0.0093},
{"w":743,"a":-0.0066,"b":-0.0074,"c":-0.0041,"d":-0.0095,"e":0.0067,"f":0.009,"g":0.0078,"h":0.0055},
{"w":744,"a":-0.0052,"b":-0.0049,"c":-0.0085,"d":-0.007,"e":0.0095,"f":0.0059,"g":0.0053,"h":0.0082},
{"w":745,"a":-0.0083,"b":-0.0088,"c":-0.0062,"d":-0.0044,"e":0.006,"f":0.0084,"g":0.0088,"h":0.0064},
{"w":746,"a":-0.0061,"b":-0.0056,"c":-0.0095,"d":-0.0079,"e":0.0087,"f":0.007,"g":0.0064,"h":0.0091},
{"w":747,"a":-0.0094,"b":-0.0078,"c":-0.005,"d":-0.0096,"e":0.0072,"f":0.0088,"g":0.008,"h":0.0058},
{"w":748,"a":-0.007,"b":-0.0039,"c":-0.0081,"d":-0.0059,"e":0.0058,"f":0.0064,"g":0.0093,"h":0.0077},
{"w":749,"a":-0.0055,"b":-0.0084,"c":-0.0067,"d":-0.01,"e":0.0083,"f":0.011,"g":0.0061,"h":0.0052},
{"w":750,"a":-0.0088,"b":-0.0052,"c":-0.0102,"d":-0.0045,"e":0.0064,"f":0.0122,"g":0.0075,"h":0.007},
{"w":751,"a":-0.0163,"b":-0.0072,"c":-0.0056,"d":-0.0082,"e":0.0048,"f":0.0098,"g":0.0058,"h":0.0044},
{"w":752,"a":-0.0066,"b":-0.0031,"c":-0.0098,"d":-0.0113,"e":0.007,"f":0.0113,"g":0.0082,"h":0.0061},
{"w":753,"a":-0.0092,"b":-0.0064,"c":-0.0062,"d":-0.0068,"e":0.0055,"f":0.0101,"g":0.0047,"h":0.0038},
{"w":754,"a":-0.0058,"b":-0.0027,"c":-0.011,"d":-0.0163,"e":0.0079,"f":0.0084,"g":0.0066,"h":0.0053},
{"w":755,"a":-0.0081,"b":-0.0049,"c":-0.0074,"d":-0.009,"e":0.0043,"f":0.0076,"g":0.004,"h":0.0067},
{"w":756,"a":-0.0047,"b":-0.0023,"c":-0.0112,"d":-0.0061,"e":0.0061,"f":0.0069,"g":0.0072,"h":0.0032},
{"w":757,"a":-0.0065,"b":-0.0042,"c":-0.0079,"d":-0.005,"e":0.0037,"f":0.0058,"g":0.0049,"h":0.0074}
  ]
},
"concat": [
  {
    "spacing": 0,
    "resolve": {"scale": {"color": "independent", "strokeDash": "independent", "strokeWidth": "independent"}, "legend": {"color": "independent", "strokeDash": "independent", "strokeWidth": "independent"}},
    "hconcat": [
      {"width": 1, "height": 1, "data": {"values": []}, "mark": {"type": "point", "opacity": 0}, "encoding": {}},
      {
        "width": 436, "height": 323,
        "title": {"text": "(a)", "offset": 3, "dx": -5},
        "data": {"name": "ra"},
        "transform": [
          {"fold": ["m15", "x15", "n1", "n2", "n3", "x1", "x2", "x3"], "as": ["k", "v"]},
          {"lookup": "k", "from": {"data": {"name": "keysA"}, "key": "k", "fields": ["s"]}}
        ],
        "mark": {"type": "line", "strokeCap": "butt"},
        "encoding": {
          "x": {"field": "w", "type": "quantitative", "scale": {"domain": [630, 760], "nice": false, "zero": false},
            "axis": {"title": ["Wavelength (nm)", ""], "titleLineHeight": 10, "values": [640, 650, 660, 670, 680, 690, 700, 710, 720, 730, 740, 750, 760],
              "labelExpr": "datum.value % 20 === 0 ? datum.label : ''",
              "tickSize": {"condition": {"test": "datum.value % 20 === 0", "value": 8}, "value": 5},
              "labelPadding": 9, "titlePadding": 7}},
          "y": {"field": "v", "type": "quantitative", "scale": {"domain": [0, 1.012], "nice": false},
            "axis": {"title": "Normalized reflectance", "values": [0, 0.05, 0.1, 0.15, 0.2, 0.25, 0.3, 0.35, 0.4, 0.45, 0.5, 0.55, 0.6, 0.65, 0.7, 0.75, 0.8, 0.85, 0.9, 0.95, 1],
              "labelExpr": "abs(datum.value*10 - round(datum.value*10)) < 0.01 ? replace(format(datum.value, '.1f'), '.', '·') : ''",
              "tickSize": {"condition": {"test": "abs(datum.value*10 - round(datum.value*10)) < 0.01", "value": 8}, "value": 5},
              "labelPadding": 4, "titlePadding": 26}},
          "detail": {"field": "k"},
          "color": {"field": "s", "type": "nominal",
            "scale": {"domain": ["Min CS 15", "Max CS 15", "Min CS 169, 685, R5", "n3c", "Max CS 169, 685, R5", "x3c"], "range": ["#9b9b9b", "#262626", "#c6c6c6", "rgba(255,255,255,0)", "#1c1c1c", "rgba(255,255,255,0)"]},
            "legend": {"title": null, "orient": "none", "legendX": 54, "legendY": 38, "symbolType": "M-2,0H2", "symbolSize": 506, "labelOffset": 21, "rowPadding": 5.5,
              "labelExpr": "datum.label === 'n3c' || datum.label === 'x3c' ? '\u200b\u00a0\u00a0\u00a0\u00a0\u00a0\u00a0\u00a0\u00a0\u00a0\u00a0\u00a0(3 curves)' : (indexof(datum.label, '169') >= 0 ? '\u200b\u00a0\u00a0' + datum.label : datum.label)"}},
          "strokeDash": {"field": "s", "type": "nominal",
            "scale": {"domain": ["Min CS 15", "Max CS 15", "Min CS 169, 685, R5", "n3c", "Max CS 169, 685, R5", "x3c"], "range": [[14, 13], [8, 9], [1, 0], [1, 0], [1, 0], [1, 0]]}},
          "strokeWidth": {"field": "s", "type": "ordinal",
            "scale": {"domain": ["Min CS 15", "Max CS 15", "Min CS 169, 685, R5", "n3c", "Max CS 169, 685, R5", "x3c"], "range": [3, 3.5, 1.3, 1, 1.8, 1]}}
        }
      }
    ]
  },
  {
    "spacing": 0,
    "resolve": {"scale": {"color": "independent"}, "legend": {"color": "independent"}},
    "hconcat": [
      {"width": 1, "height": 1, "data": {"values": []}, "mark": {"type": "point", "opacity": 0}, "encoding": {}},
      {
        "width": 435, "height": 323,
        "title": {"text": "(b)", "offset": 0, "dx": -5},
        "data": {"name": "rb"},
        "transform": [
          {"fold": ["a", "b", "c", "d", "e", "f", "g", "h"], "as": ["k", "v"]},
          {"lookup": "k", "from": {"data": {"name": "grp"}, "key": "k", "fields": ["s"]}}
        ],
        "mark": {"type": "line", "strokeWidth": 1.5},
        "encoding": {
          "x": {"field": "w", "type": "quantitative", "scale": {"domain": [630, 760], "nice": false, "zero": false},
            "axis": {"title": "Wavelength (nm)", "values": [640, 650, 660, 670, 680, 690, 700, 710, 720, 730, 740, 750, 760],
              "labelExpr": "datum.value % 20 === 0 ? datum.label : ''",
              "tickSize": {"condition": {"test": "datum.value % 20 === 0", "value": 8}, "value": 5},
              "labelPadding": 8, "titlePadding": 10}},
          "y": {"field": "v", "type": "quantitative", "scale": {"domain": [-0.008, 0.038], "nice": false, "zero": false},
            "axis": {"title": ["First derivative of", "normalized reflectance (R/band)"], "titleLineHeight": 27,
              "values": [-0.008, -0.006, -0.004, -0.002, 0, 0.002, 0.004, 0.006, 0.008, 0.01, 0.012, 0.014, 0.016, 0.018, 0.02, 0.022, 0.024, 0.026, 0.028, 0.03, 0.032, 0.034, 0.036, 0.038],
              "labelExpr": "abs(datum.value*250 - round(datum.value*250)) < 0.01 ? replace(format(datum.value, '.3f'), '.', '·') : ''",
              "tickSize": {"condition": {"test": "abs(datum.value*250 - round(datum.value*250)) < 0.01", "value": 8}, "value": 5},
              "labelPadding": 8, "titlePadding": 6}},
          "detail": {"field": "k"},
          "color": {"field": "s", "type": "nominal",
            "scale": {"domain": ["Min CS 15, 169, 685, R5", "n4", "Max CS 15, 169, 685, R5", "x4"], "range": ["#bdbdbd", "rgba(255,255,255,0)", "#1c1c1c", "rgba(255,255,255,0)"]},
            "legend": {"title": null, "orient": "none", "legendX": 30, "legendY": 31, "symbolType": "M-2,0H2", "symbolSize": 676, "symbolStrokeWidth": 2, "labelOffset": 23, "rowPadding": 4.5,
              "labelExpr": "datum.label === 'n4' || datum.label === 'x4' ? '\u200b\u00a0\u00a0\u00a0\u00a0\u00a0\u00a0\u00a0\u00a0\u00a0\u00a0\u00a0\u00a0\u00a0\u00a0(4 curves)' : datum.label"}}
        }
      }
    ]
  },
  {
    "spacing": 0,
    "resolve": {"scale": {"color": "independent"}, "legend": {"color": "independent"}},
    "hconcat": [
      {"width": 1, "height": 1, "data": {"values": []}, "mark": {"type": "point", "opacity": 0}, "encoding": {}},
      {
        "width": 435, "height": 325,
        "title": {"text": "(c)", "offset": 10, "dx": -5},
        "data": {"name": "rc"},
        "transform": [
          {"fold": ["a", "b", "c", "d", "e", "f", "g", "h"], "as": ["k", "v"]},
          {"lookup": "k", "from": {"data": {"name": "grp"}, "key": "k", "fields": ["s"]}}
        ],
        "mark": {"type": "line", "strokeWidth": 1.3},
        "encoding": {
          "x": {"field": "w", "type": "quantitative", "scale": {"domain": [630, 760], "nice": false, "zero": false},
            "axis": {"title": "Wavelength (nm)", "values": [640, 650, 660, 670, 680, 690, 700, 710, 720, 730, 740, 750, 760],
              "labelExpr": "datum.value % 20 === 0 ? datum.label : ''",
              "tickSize": {"condition": {"test": "datum.value % 20 === 0", "value": 8}, "value": 5},
              "labelPadding": 7, "titlePadding": 9}},
          "y": {"field": "v", "type": "quantitative", "scale": {"domain": [-0.018, 0.015], "nice": false, "zero": false},
            "axis": {"title": ["Second derivative of", "normalized reflectance (R/band²)"], "titleLineHeight": 27,
              "values": [-0.018, -0.016, -0.014, -0.012, -0.01, -0.008, -0.006, -0.004, -0.002, 0, 0.002, 0.004, 0.006, 0.008, 0.01, 0.012, 0.014],
              "labelExpr": "abs(datum.value*250 - round(datum.value*250)) < 0.01 ? replace(format(datum.value, '.3f'), '.', '·') : ''",
              "tickSize": {"condition": {"test": "abs(datum.value*250 - round(datum.value*250)) < 0.01", "value": 8}, "value": 5},
              "labelPadding": 6, "titlePadding": 8}},
          "detail": {"field": "k"},
          "color": {"field": "s", "type": "nominal",
            "scale": {"domain": ["Min CS 15, 169, 685, R5", "n4", "Max CS 15, 169, 685, R5", "x4"], "range": ["#bdbdbd", "rgba(255,255,255,0)", "#1a1a1a", "rgba(255,255,255,0)"]},
            "legend": {"title": null, "orient": "none", "legendX": 27, "legendY": 204, "symbolType": "M-2,0H2", "symbolSize": 676, "symbolStrokeWidth": 2, "labelOffset": 23, "rowPadding": 3.5,
              "labelExpr": "datum.label === 'n4' || datum.label === 'x4' ? '\u200b\u00a0\u00a0\u00a0\u00a0\u00a0\u00a0\u00a0\u00a0\u00a0\u00a0\u00a0\u00a0\u00a0\u00a0(4 curves)' : datum.label"}}
        }
      }
    ]
  }
],
"resolve": {"scale": {"color": "independent", "strokeDash": "independent", "strokeWidth": "independent"}, "legend": {"color": "independent"}}
}
